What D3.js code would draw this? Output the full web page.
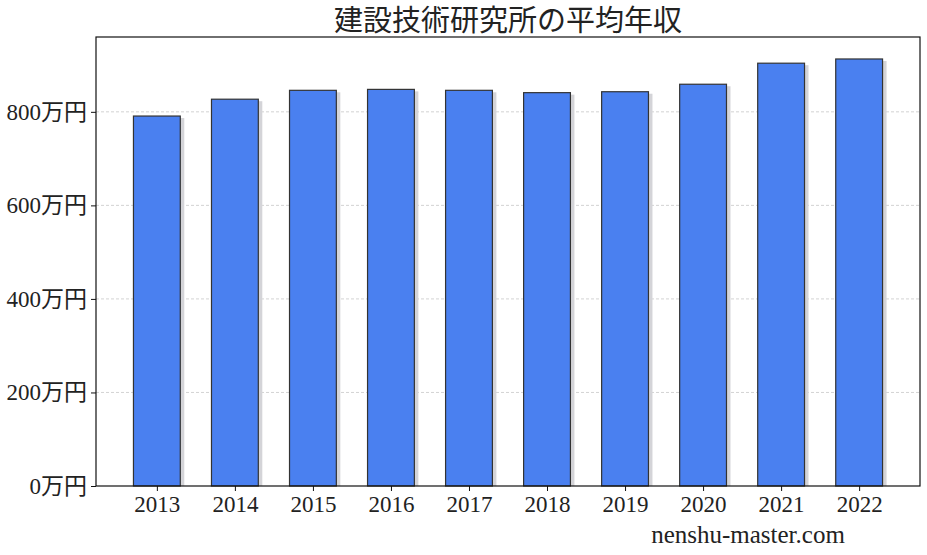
<!DOCTYPE html>
<html>
<head>
<meta charset="utf-8">
<script src="https://cdn.jsdelivr.net/npm/d3@7"></script>
<style>
  body { margin: 0; background: #fff; }
  text { font-family: "Liberation Serif", "DejaVu Serif", "Noto Sans CJK JP", serif; }
</style>
</head>
<body>
<svg id="chart" width="927" height="555"></svg>
<script>
// data
const years = ["2013", "2014", "2015", "2016", "2017", "2018", "2019", "2020", "2021", "2022"];
const salaries = [791, 827, 846, 848, 846, 841, 843, 859, 904, 913];
const yTicks = [0, 200, 400, 600, 800];

const svg = d3.select('#chart');
const plotL = 96, plotR = 920, plotT = 37, plotB = 486;

let x = d3.scaleLinear().domain([-0.78, 9.78]).range([plotL, plotR]);
let y = d3.scaleLinear().domain([0, 960]).range([plotB, plotT]);
const step = x(1) - x(0);
const bw = step * 0.6;

// grid lines
svg.append('g')
  .selectAll('line')
  .data(yTicks.slice(1))
  .enter()
  .append('line')
  .attr('x1', plotL).attr('x2', plotR)
  .attr('y1', d => y(d)).attr('y2', d => y(d))
  .attr('stroke', '#c8c8c8')
  .attr('stroke-width', 0.8)
  .attr('stroke-dasharray', '3,2');

// shadows
svg.append('g')
  .selectAll('rect')
  .data(salaries)
  .enter()
  .append('rect')
  .attr('x', (d, i) => x(i) - bw / 2 + 4)
  .attr('y', d => y(d) + 2)
  .attr('width', bw)
  .attr('height', d => plotB - y(d) - 2)
  .attr('fill', '#d4d4d8');

// bars
svg.append('g')
  .selectAll('rect')
  .data(salaries)
  .enter()
  .append('rect')
  .attr('x', (d, i) => x(i) - bw / 2)
  .attr('y', d => y(d))
  .attr('width', bw)
  .attr('height', d => plotB - y(d))
  .attr('fill', '#4a80f0')
  .attr('stroke', '#333')
  .attr('stroke-width', 1.2);

// frame
svg.append('rect')
  .attr('x', plotL).attr('y', plotT)
  .attr('width', plotR - plotL).attr('height', plotB - plotT)
  .attr('fill', 'none')
  .attr('stroke', '#111')
  .attr('stroke-width', 1.2);

// y axis
let yAxis = d3.axisLeft(y)
  .tickValues(yTicks)
  .tickSize(5)
  .tickPadding(4)
  .tickFormat(d => d + '万円');
svg.append('g')
  .attr('transform', `translate(${plotL},0)`)
  .call(yAxis)
  .call(g => g.select('.domain').remove())
  .call(g => g.selectAll('.tick line').attr('stroke', '#111'))
  .call(g => g.selectAll('.tick text').attr('fill', '#222').style('font-size', '23px'));

// x axis
let xAxis = d3.axisBottom(x)
  .tickValues(d3.range(years.length))
  .tickSize(5)
  .tickPadding(5)
  .tickFormat(i => years[i]);
svg.append('g')
  .attr('transform', `translate(0,${plotB})`)
  .call(xAxis)
  .call(g => g.select('.domain').remove())
  .call(g => g.selectAll('.tick line').attr('stroke', '#111'))
  .call(g => g.selectAll('.tick text').attr('fill', '#222').style('font-size', '23px'));

// title
svg.append('text')
  .attr('x', (plotL + plotR) / 2)
  .attr('y', 31)
  .attr('text-anchor', 'middle')
  .attr('fill', '#222')
  .style('font-size', '29px')
  .text('建設技術研究所の平均年収');

// watermark
svg.append('text')
  .attr('x', 748)
  .attr('y', 543)
  .attr('text-anchor', 'middle')
  .attr('fill', '#222')
  .style('font-size', '25px')
  .text('nenshu-master.com');
</script>
</body>
</html>
